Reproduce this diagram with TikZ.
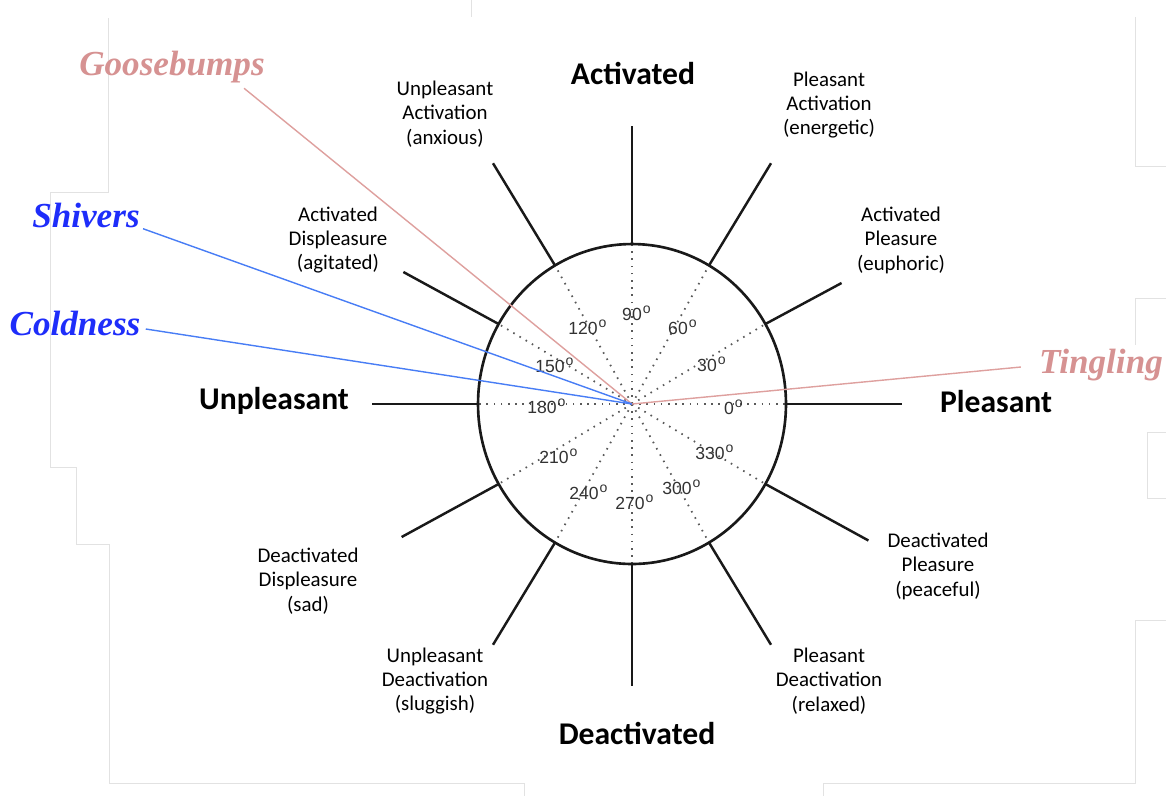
\documentclass[tikz,border=0pt]{standalone}
\usepackage{fontspec}
\setmainfont{Carlito}
\newfontfamily\serifbi{Liberation Serif}
\newfontfamily\helv{Liberation Sans}
\usetikzlibrary{calc}
\definecolor{myrose}{RGB}{214,146,146}
\definecolor{myroseline}{RGB}{222,160,158}
\definecolor{myblue}{RGB}{30,45,250}
\definecolor{myblueline}{RGB}{72,125,245}
\definecolor{myframe}{RGB}{226,226,226}
\definecolor{mydeg}{RGB}{50,50,50}
\newcommand{\degtxt}[1]{#1\rlap{\kern0.6pt\raisebox{4pt}{\fontsize{8}{8}\selectfont o}}}

\tikzset{
    axis label/.style={font=\fontsize{18}{22}\selectfont\bfseries, inner sep=0pt},
    mood label/.style={font=\fontsize{11.9}{13.9}\selectfont, align=center, inner sep=0pt},
    feel label/.style={font=\fontsize{20}{24}\selectfont\serifbi\bfseries\itshape, inner sep=0pt},
    deg label/.style={font=\fontsize{10}{12}\selectfont\helv, text=mydeg, inner sep=0pt},
    spoke/.style={line width=1.4pt, black!90},
    spokedot/.style={line width=1pt, gray!70!black, dash pattern=on 0.9pt off 3.2pt},
    rose line/.style={line width=0.8pt, myroseline},
    blue line/.style={line width=0.8pt, myblueline},
    frameline/.style={line width=0.5pt, myframe}
}

\begin{document}
\begin{tikzpicture}[x=0.02cm, y=-0.02cm]
    \useasboundingbox (0, 0) rectangle (1166, 796);

    % slide edges
    \draw[frameline] (108, 18) -- (108, 192) -- (50, 192) -- (50, 467)
        -- (76, 467) -- (76, 544) -- (109, 544) -- (109, 783)
        -- (524, 783) -- (524, 796);
    \draw[frameline] (471, 0) -- (471, 17);
    \draw[frameline] (1135, 17) -- (1135, 166) -- (1166, 166);
    \draw[frameline] (1166, 298) -- (1135, 298) -- (1135, 345);
    \draw[frameline] (1166, 432) -- (1147, 432) -- (1147, 498) -- (1166, 498);
    \draw[frameline] (1166, 620) -- (1135, 620) -- (1135, 783)
        -- (823, 783) -- (823, 796);

    % circumplex
    \coordinate (c) at (632, 404);
    \foreach \a in {0, 30, ..., 330}
        \draw[spokedot] (c) -- ($(c) + ({154*cos(\a)}, {-160*sin(\a)})$);
    \draw[line width=1.5pt, black!90] (c) ellipse [x radius=3.08cm, y radius=3.2cm];
    \foreach \a/\r in {0/270, 30/242, 60/278, 90/278, 120/278, 150/264,
                       180/260, 210/266, 240/278, 270/282, 300/278, 330/273}
        \draw[spoke] ($(c) + ({154*cos(\a)}, {-160*sin(\a)})$)
            -- ($(c) + ({\r*cos(\a)}, {-\r*sin(\a)})$);

    % angles
    \foreach \v/\x/\y in {0/729/407, 30/707/364, 60/678/327, 90/632/313,
                          120/583/327, 150/550/365, 180/542/406, 210/554/456,
                          240/584/492, 270/630/502, 300/677/487, 330/710/452}
        \node[deg label] (deg\v) at (\x, \y) {\degtxt{\v}};

    % axes
    \node[axis label] (act) at (633, 73) {Activated};
    \node[axis label] (deact) at (637, 733) {Deactivated};
    \node[axis label] (unpl) at (274, 401) {Unpleasant};
    \node[axis label] (pleas) at (996, 402) {Pleasant};

    % octants
    \node[mood label] (ua) at (445, 114) {Unpleasant\\Activation\\(anxious)};
    \node[mood label] (pa) at (829, 105) {Pleasant\\Activation\\(energetic)};
    \node[mood label] (ad) at (338, 240) {Activated\\Displeasure\\(agitated)};
    \node[mood label] (ap) at (901, 240) {Activated\\Pleasure\\(euphoric)};
    \node[mood label] (dd) at (308, 581) {Deactivated\\Displeasure\\(sad)};
    \node[mood label] (dp) at (938, 566) {Deactivated\\Pleasure\\(peaceful)};
    \node[mood label] (ud) at (435, 681) {Unpleasant\\Deactivation\\(sluggish)};
    \node[mood label] (pd) at (829, 681) {Pleasant\\Deactivation\\(relaxed)};

    % sensations
    \node[feel label, text=myrose] (goose) at (172, 67) {Goosebumps};
    \node[feel label, text=myblue] (shiv) at (86, 215) {Shivers};
    \node[feel label, text=myblue] (cold) at (75, 323) {Coldness};
    \node[feel label, text=myrose] (tingl) at (1101, 365) {Tingling};

    \draw[rose line] ([shift={(-21, 5)}]goose.south east) -- (c);
    \draw[blue line] ([shift={(3, 1)}]shiv.south east) -- (c);
    \draw[blue line] ([shift={(5, 6)}]cold.east) -- (c);
    \draw[rose line] ([shift={(-18, 2)}]tingl.west) -- (c);
\end{tikzpicture}
\end{document}
